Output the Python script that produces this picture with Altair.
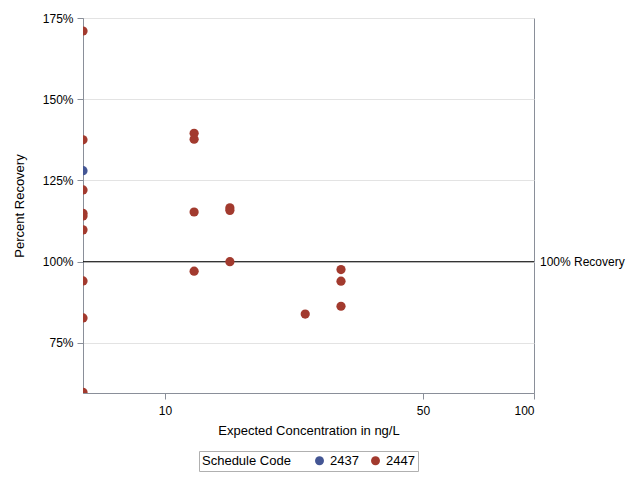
import altair as alt
import pandas as pd

# data
conc = [6, 6, 6, 6, 6, 6, 6, 6, 6, 6,
        12, 12, 12, 12,
        15, 15, 15,
        24,
        30, 30, 30]
recovery = [171.0, 137.5, 128.0, 122.1, 114.9, 114.1, 109.8, 94.1, 82.7, 59.8,
            139.5, 137.7, 115.3, 97.1,
            116.6, 115.8, 100.0,
            83.9,
            97.6, 94.0, 86.3]
schedule = ["2447", "2447", "2437", "2447", "2447", "2447", "2447", "2447", "2447", "2447",
            "2447", "2447", "2447", "2447",
            "2447", "2447", "2447",
            "2447",
            "2447", "2447", "2447"]
sched_codes = ["2437", "2447"]
sched_colors = ["#445694", "#A23A2E"]
x_ticks = [10, 50, 100]
y_ticks = [75, 100, 125, 150, 175]
ref_value = [100]
ref_label = ["100% Recovery"]

df = pd.DataFrame({"conc": conc, "rec": recovery, "code": schedule})
ref = pd.DataFrame({"y": ref_value, "label": ref_label})

FONT = "Liberation Sans"

xscale = alt.Scale(type="log", domain=[6, 100], nice=False)
yscale = alt.Scale(domain=[59.6, 175], nice=False, zero=False)

points = alt.Chart(df).mark_circle(size=85, opacity=1, clip=True).encode(
    x=alt.X("conc:Q", scale=xscale,
            axis=alt.Axis(values=x_ticks, title="Expected Concentration in ng/L",
                          labelExpr="toString(datum.value)", grid=False,
                          tickSize=6, labelPadding=6, titlePadding=8)),
    y=alt.Y("rec:Q", scale=yscale,
            axis=alt.Axis(values=y_ticks, title="Percent Recovery",
                          labelExpr="datum.value + '%'", grid=True,
                          gridColor="#e3e3e3", tickSize=6, labelPadding=4,
                          titlePadding=16)),
    color=alt.Color("code:N", scale=alt.Scale(domain=sched_codes, range=sched_colors),
                    legend=alt.Legend(title="Schedule Code", orient="none",
                                      legendX=116, legendY=433,
                                      direction="horizontal", titleOrient="left",
                                      strokeColor="#b0b0b0", padding=3,
                                      symbolType="circle", symbolSize=80,
                                      symbolStrokeWidth=0,
                                      titleFontWeight="normal", titleFontSize=13,
                                      labelFontSize=13, titlePadding=22,
                                      columnPadding=10)),
)

rule = alt.Chart(ref).mark_rule(color="black", strokeWidth=1).encode(
    y=alt.Y("y:Q", scale=yscale)
)

label = alt.Chart(ref).mark_text(align="left", baseline="middle", dx=0,
                                 font=FONT, fontSize=12, color="black").encode(
    x=alt.value(457),
    y=alt.Y("y:Q", scale=yscale),
    text="label:N",
)

chart = alt.layer(rule, points, label).properties(
    width=451, height=375,
    padding={"left": 75, "top": 10, "right": 98, "bottom": 80},
    autosize=alt.AutoSizeParams(type="none"),
).configure_view(
    stroke="#8a8f99", strokeWidth=1
).configure_axis(
    domainColor="#8a8f99", tickColor="#8a8f99",
    labelFont=FONT, titleFont=FONT, labelFontSize=12, titleFontSize=13,
    titleFontWeight="normal", labelColor="black", titleColor="black",
).configure_legend(
    labelFont=FONT, titleFont=FONT, labelColor="black", titleColor="black"
)

chart.save("out.html", embed_options={"renderer": "svg", "actions": False})
